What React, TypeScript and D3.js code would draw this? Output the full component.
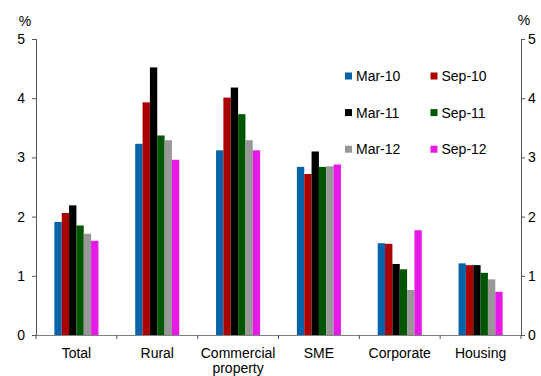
import React from "react";
import * as d3 from "d3";

const categories = ["Total", "Rural", "Commercial property", "SME", "Corporate", "Housing"];
const seriesNames = ["Mar-10", "Sep-10", "Mar-11", "Sep-11", "Mar-12", "Sep-12"];
const colors = ["#0563AA", "#AA0000", "#000000", "#005500", "#989898", "#E619E6"];
const mar10 = [1.91, 3.23, 3.12, 2.84, 1.55, 1.21];
const sep10 = [2.06, 3.93, 4.01, 2.72, 1.54, 1.18];
const mar11 = [2.19, 4.52, 4.18, 3.1, 1.2, 1.18];
const sep11 = [1.85, 3.37, 3.73, 2.84, 1.11, 1.05];
const mar12 = [1.71, 3.29, 3.29, 2.85, 0.76, 0.94];
const sep12 = [1.59, 2.96, 3.12, 2.88, 1.77, 0.73];
const series = [mar10, sep10, mar11, sep11, mar12, sep12];
const yTicks = [0, 1, 2, 3, 4, 5];

export default function App() {
  const W = 541, H = 376;
  const left = 36, right = 521, top = 39, bottom = 335;
  const x = d3.scaleBand<string>().domain(categories).range([left, right]).paddingInner(0).paddingOuter(0);
  const y = d3.scaleLinear().domain([0, 5]).range([bottom, top]);
  const groupW = x.bandwidth() * 0.545;
  const inner = d3.scaleBand<string>().domain(seriesNames).range([0, groupW]).padding(0);
  const font = "Liberation Sans, Arial, sans-serif";
  const fs = 14;
  const boundaries = d3.range(categories.length + 1).map((i) => left + i * x.bandwidth());

  return (
    <svg width={W} height={H} style={{ position: "absolute", left: 0, top: 0 }} fontFamily={font}>
      <rect width={W} height={H} fill="#fff" />
      {categories.map((c, ci) =>
        series.map((s, si) => {
          const bx = (x(c) as number) + (x.bandwidth() - groupW) / 2 + (inner(seriesNames[si]) as number);
          return (
            <rect key={c + si} x={bx} y={y(s[ci])} width={inner.bandwidth()} height={bottom - y(s[ci])} fill={colors[si]} />
          );
        })
      )}
      {/* x axis */}
      <line x1={left} x2={right} y1={bottom + 0.5} y2={bottom + 0.5} stroke="#808080" strokeWidth={1} />
      {boundaries.map((bx, i) => (
        <line key={i} x1={bx} x2={bx} y1={bottom} y2={bottom + 4} stroke="#555" strokeWidth={1} />
      ))}
      {/* left axis */}
      <line x1={left + 0.5} x2={left + 0.5} y1={top} y2={bottom + 1} stroke="#555" strokeWidth={1} />
      {yTicks.map((t) => (
        <g key={"l" + t}>
          <line x1={left - 4} x2={left} y1={y(t) + 0.5} y2={y(t) + 0.5} stroke="#555" />
          <text x={left - 11} y={y(t) + 5} fontSize={fs} textAnchor="end" fill="#000">{t}</text>
        </g>
      ))}
      {/* right axis */}
      <line x1={right + 0.5} x2={right + 0.5} y1={top} y2={bottom + 1} stroke="#555" strokeWidth={1} />
      {yTicks.map((t) => (
        <g key={"r" + t}>
          <line x1={right} x2={right + 4} y1={y(t) + 0.5} y2={y(t) + 0.5} stroke="#555" />
          <text x={right + 7} y={y(t) + 5} fontSize={fs} textAnchor="start" fill="#000">{t}</text>
        </g>
      ))}
      <text x={25} y={26} fontSize={fs} textAnchor="middle">%</text>
      <text x={524} y={25} fontSize={fs} textAnchor="middle">%</text>
      {/* category labels */}
      {categories.map((c) => {
        const cx = (x(c) as number) + x.bandwidth() / 2;
        const parts = c === "Commercial property" ? ["Commercial", "property"] : [c];
        return (
          <text key={c} x={cx} y={358} fontSize={fs} textAnchor="middle">
            {parts.map((p, i) => (
              <tspan key={i} x={cx} dy={i === 0 ? 0 : 15}>{p}</tspan>
            ))}
          </text>
        );
      })}
      {/* legend */}
      {seriesNames.map((n, i) => {
        const col = i % 2, row = Math.floor(i / 2);
        const lx = 345 + col * 85.5;
        const ly = 76 + row * 36.6;
        return (
          <g key={n}>
            <rect x={lx} y={ly - 3.5} width={7} height={7} fill={colors[i]} />
            <text x={lx + 11} y={ly + 5} fontSize={fs}>{n}</text>
          </g>
        );
      })}
    </svg>
  );
}
